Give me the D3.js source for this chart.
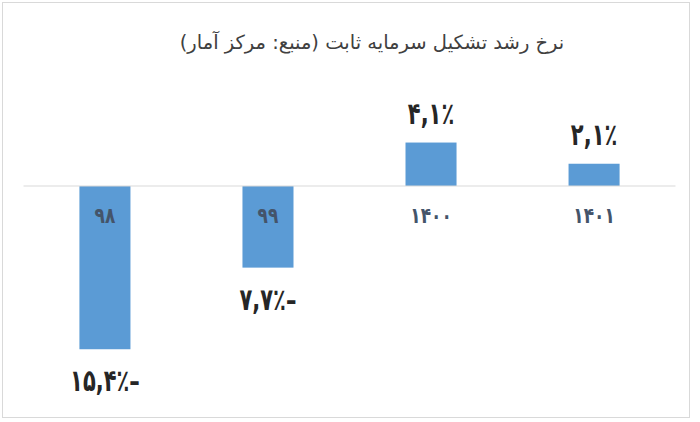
<!DOCTYPE html>
<html><head><meta charset="utf-8">
<script src="https://cdn.jsdelivr.net/npm/d3@7/dist/d3.min.js"></script>
<style>body{margin:0;background:#fff}svg{display:block}</style>
</head><body><svg id="c" width="700" height="422"></svg>
<script>
const title = "نرخ رشد تشکیل سرمایه ثابت (منبع: مرکز آمار)";
const categories = ["۹۸", "۹۹", "۱۴۰۰", "۱۴۰۱"];
const values = [-15.4, -7.7, 4.1, 2.1];

const svg = d3.select("#c");
const faDigits = "۰۱۲۳۴۵۶۷۸۹";
const toFa = s => s.replace(/[0-9]/g, d => faDigits[+d]);
const fmt = v => toFa(Math.abs(v).toFixed(1).replace(".", ",")) + "٪" + (v < 0 ? "–" : "");

// chart border
svg.append("rect").attr("x", 2.5).attr("y", 2.5).attr("width", 687).attr("height", 415)
  .attr("fill", "#fff").attr("stroke", "#d9d9d9").attr("stroke-width", 1);

const x = d3.scaleBand().domain(categories).range([23.5, 675.5]).paddingInner(0.687).paddingOuter(0.343);
const y = d3.scaleLinear().domain([-20, 5]).range([186 + 20 * 10.6, 186 - 5 * 10.6]);

svg.append("text").attr("x", 372).attr("y", 49).attr("text-anchor", "middle")
  .attr("direction", "rtl")
  .style("font-family", "'DejaVu Sans', sans-serif").style("font-size", "19.5px").attr("fill", "#404040")
  .text(title);

svg.selectAll("rect.bar").data(values).join("rect").attr("class", "bar")
  .attr("x", (d, i) => x(categories[i]))
  .attr("width", x.bandwidth())
  .attr("y", d => y(Math.max(0, d)))
  .attr("height", d => Math.abs(y(d) - y(0)))
  .attr("fill", "#5B9BD5");

// zero axis line
svg.append("line").attr("x1", x.range()[0]).attr("x2", x.range()[1])
  .attr("y1", y(0)).attr("y2", y(0)).attr("stroke", "#d9d9d9").attr("stroke-width", 1);

// category labels
svg.selectAll("text.cat").data(categories).join("text").attr("class", "cat")
  .attr("transform", d => `translate(${x(d) + x.bandwidth() / 2},${y(0) + 37}) scale(1,1.3)`)
  .attr("text-anchor", "middle")
  .style("font-family", "'DejaVu Sans', sans-serif").style("font-size", "17px").style("font-weight", "bold")
  .attr("fill", "#44546A").text(d => d);

// value labels
svg.selectAll("text.val").data(values).join("text").attr("class", "val")
  .attr("transform", (d, i) => `translate(${x(categories[i]) + x.bandwidth() / 2},${d < 0 ? y(d) + 42 : y(d) - 19}) scale(1,1.45)`)
  .attr("text-anchor", "middle")
  .attr("direction", "ltr").attr("unicode-bidi", "bidi-override")
  .style("font-family", "'DejaVu Sans', sans-serif").style("font-size", "21px").style("font-weight", "bold")
  .attr("fill", "#262626").text(d => fmt(d));
</script></body></html>
